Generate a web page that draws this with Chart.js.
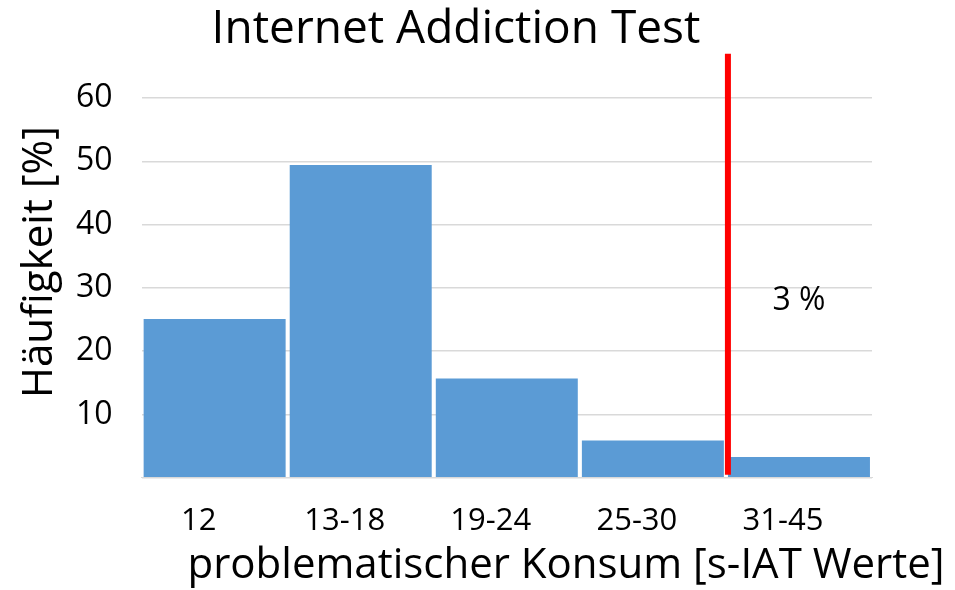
<!DOCTYPE html>
<html>
<head>
<meta charset="utf-8">
<script src="https://cdn.jsdelivr.net/npm/chart.js@4"></script>
<style>
html,body{margin:0;padding:0;background:#fff;}
#wrap{width:955px;height:590px;position:relative;}
</style>
</head>
<body>
<div id="wrap"><canvas id="c" width="955" height="590"></canvas></div>
<script>
const categories = ['12', '13-18', '19-24', '25-30', '31-45'];
const values = [25.1, 49.4, 15.7, 5.9, 3.3];
const yMin = 0, yMax = 60, yStep = 10;
const titleText = 'Internet Addiction Test';
const xTitle = 'problematischer Konsum [s-IAT Werte]';
const yTitle = 'Häufigkeit [%]';
const annotationText = '3 %';
const annotationAt = {category: '31-45', value: 28};
const cutoffBetween = [3, 4];   // red line between these category indices
const cutoffTop = 67;           // value at which red line starts

const FONT = "'Open Sans', sans-serif";

const overlay = {
  id: 'overlay',
  afterDatasetsDraw(chart) {
    const ctx = chart.ctx;
    const x = chart.scales.x, y = chart.scales.y;
    const lx = (x.getPixelForTick(cutoffBetween[0]) + x.getPixelForTick(cutoffBetween[1])) / 2 + 2;
    ctx.save();
    ctx.strokeStyle = '#ff0000';
    ctx.lineWidth = 6;
    ctx.beginPath();
    ctx.moveTo(lx, y.getPixelForValue(cutoffTop));
    ctx.lineTo(lx, y.getPixelForValue(0.5));
    ctx.stroke();
    ctx.fillStyle = '#000';
    ctx.textAlign = 'center';
    ctx.textBaseline = 'middle';
    ctx.font = "32px " + FONT;
    ctx.fillText(annotationText, x.getPixelForValue(categories.indexOf(annotationAt.category)), y.getPixelForValue(annotationAt.value));
    ctx.font = "46px " + FONT;
    ctx.fillText(titleText, 456, 30);
    ctx.font = "42px " + FONT;
    ctx.fillText(xTitle, 566, 566);
    ctx.translate(40, 262);
    ctx.rotate(-Math.PI / 2);
    ctx.font = "42px " + FONT;
    ctx.fillText(yTitle, 0, 0);
    ctx.restore();
  }
};

new Chart(document.getElementById('c'), {
  type: 'bar',
  data: {
    labels: categories,
    datasets: [{
      data: values,
      backgroundColor: '#5b9bd5',
      borderWidth: 0,
      barPercentage: 0.972,
      categoryPercentage: 1.0
    }]
  },
  options: {
    responsive: false,
    animation: false,
    devicePixelRatio: 1,
    layout: {padding: {left: 47, right: 83, top: 98, bottom: 33}},
    plugins: {legend: {display: false}, tooltip: {enabled: false}, title: {display: false}},
    scales: {
      x: {
        grid: {display: false},
        border: {display: true, color: '#d9d9d9', width: 1},
        ticks: {color: '#000', font: {family: FONT, size: 31}, labelOffset: -16, padding: 17, maxRotation: 0},
        title: {display: false}
      },
      y: {
        min: yMin, max: yMax,
        grid: {color: '#d9d9d9', lineWidth: 1.5, drawTicks: false},
        border: {display: false},
        ticks: {stepSize: yStep, color: '#000', font: {family: FONT, size: 32}, padding: 29,
          callback: (v) => v === 0 ? '' : v},
        title: {display: false}
      }
    }
  },
  plugins: [overlay]
});
</script>
</body>
</html>
